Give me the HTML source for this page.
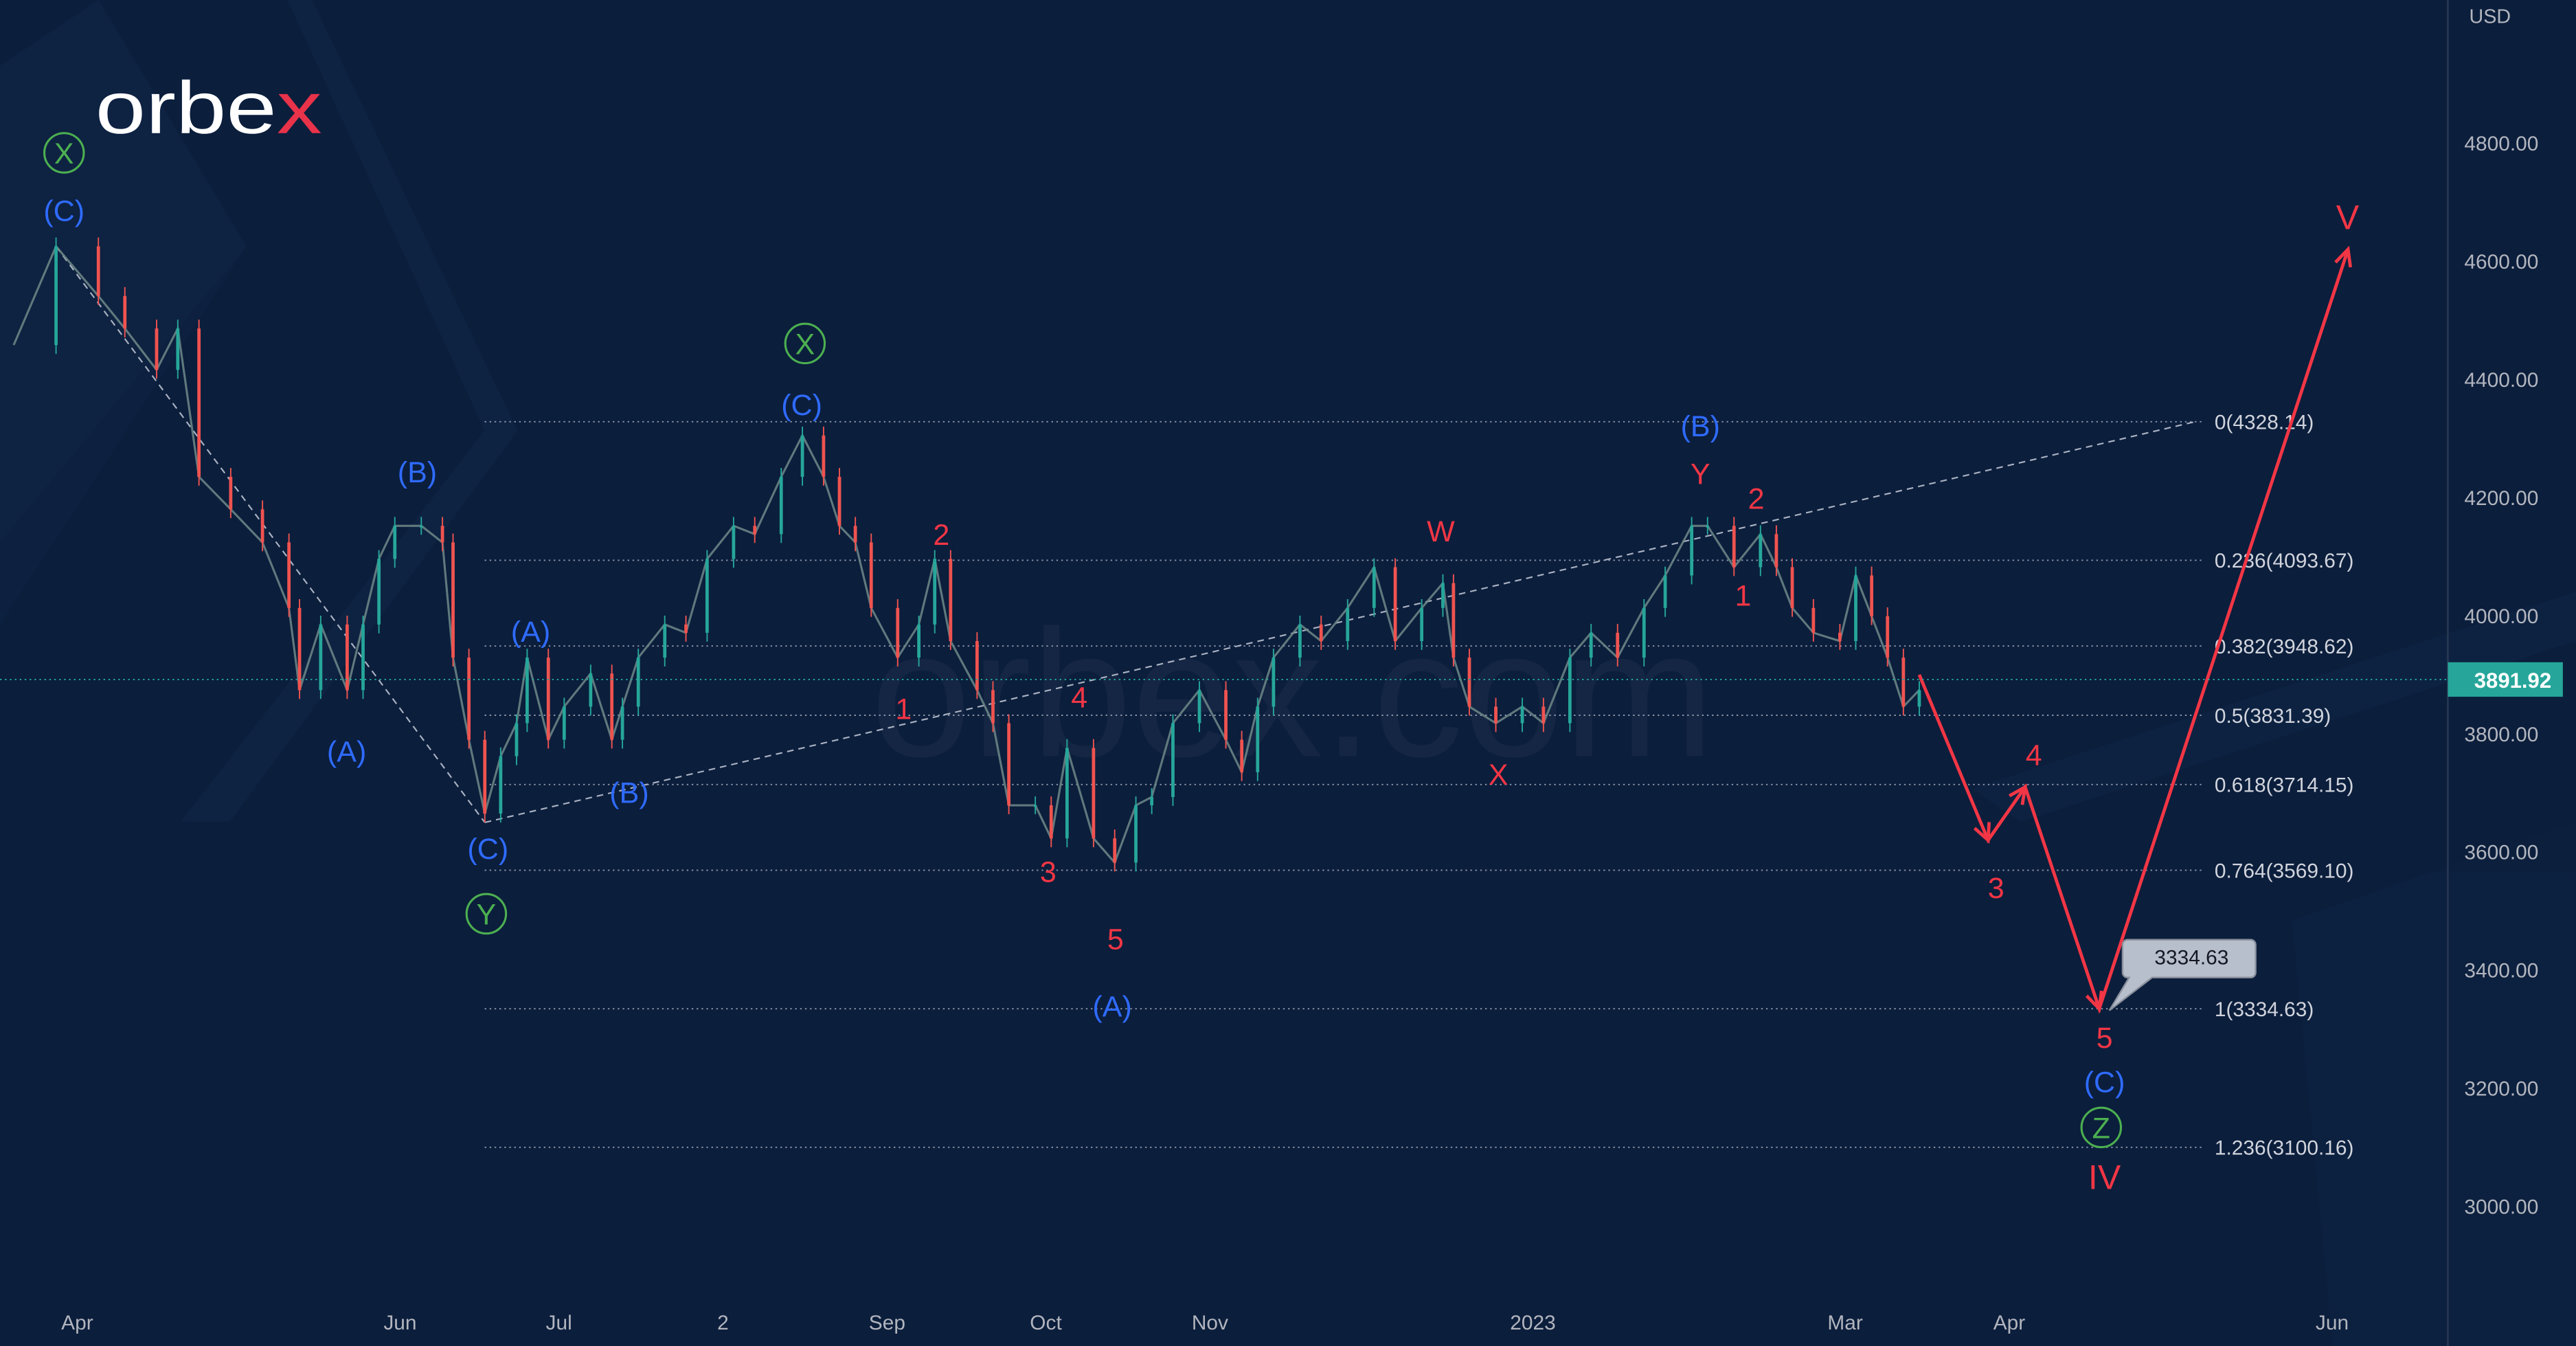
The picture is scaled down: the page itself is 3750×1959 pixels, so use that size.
<!DOCTYPE html>
<html><head><meta charset="utf-8">
<style>
html,body{margin:0;padding:0;background:#0b1e3c;}
svg{display:block;}
text{font-family:"Liberation Sans",sans-serif;}
</style></head>
<body>
<svg id="chart" width="3750" height="1959" viewBox="0 0 1568 819" preserveAspectRatio="none" xmlns="http://www.w3.org/2000/svg">
  <rect x="0" y="0" width="1568" height="819" fill="#0b1e3c"/>
  <g opacity="0.4">
    <polygon points="0,40 60,0 150,150 0,330" fill="#13284a"/>
    <polygon points="0,330 150,150 0,380" fill="#102544"/>
    <polygon points="190,0 315,262 140,500 110,500 295,262 175,0" fill="#142a4b"/>
    <polygon points="1395,560 1568,500 1568,819 1420,819" fill="#0f2343"/>
    <polygon points="1200,480 1568,360 1568,390 1230,500" fill="#122848"/>
  </g>
  <text x="530" y="460" font-size="110" fill="#ffffff" opacity="0.035">orbex.com</text>
  <g>
    <text x="58" y="81" font-size="45" fill="#ffffff" textLength="138" lengthAdjust="spacingAndGlyphs">orbe<tspan fill="#e8334a">x</tspan></text>
  </g>
  <line x1="1490" y1="0" x2="1490" y2="819" stroke="#2a3a55" stroke-width="1"/>
  <text x="1503" y="14" font-size="12" fill="#b2b5be">USD</text>
  <g id="yticks"></g>
  <g id="xticks"></g>
  <g id="fib"></g>
  <g id="trend"></g>
  <g id="candles"></g>
  <g id="proj"></g>
  <g id="labels"></g>
  <g id="last"></g>
</svg>
<script>
const priceTicks=[4800,4600,4400,4200,4000,3800,3600,3400,3200,3000];
const monthLabels=["Apr","Jun","Jul","2","Sep","Oct","Nov","2023","Mar","Apr","Jun"];
const monthDays=[0,61,91,122,153,183,214,275,334,365,426];
const fibRatios=["0","0.236","0.382","0.5","0.618","0.764","1","1.236"];
const fibPrices=[4328.14,4093.67,3948.62,3831.39,3714.15,3569.10,3334.63,3100.16];
const lastPrice=3891.92;
const days=[-12,-4,4,9,15,19,23,29,35,40,42,46,51,54,57,60,65,69,71,74,77,80,83,85,89,92,97,101,103,106,111,115,119,124,128,133,137,141,144,147,150,155,159,162,165,170,173,176,181,184,187,192,196,200,203,207,212,217,220,223,226,231,235,240,245,249,254,258,260,263,268,273,277,282,286,291,296,300,305,308,313,318,321,324,328,333,336,339,342,345,348];
const closes=[4458,4625,4541,4486,4416,4486,4235,4180,4124,4013,3874,3985,3874,3985,4096,4152,4152,4124,3929,3790,3665,3762,3818,3929,3790,3846,3902,3790,3846,3929,3985,3971,4096,4152,4138,4235,4305,4235,4152,4124,4013,3929,3985,4096,3957,3874,3818,3679,3679,3623,3776,3623,3582,3679,3693,3818,3874,3790,3735,3846,3929,3985,3957,4013,4082,3957,4013,4055,3929,3846,3818,3846,3818,3929,3971,3929,4013,4068,4152,4152,4082,4138,4082,4013,3971,3957,4068,3999,3929,3846,3874];
const projDays=[348,361,368,382,429];
const projPrices=[3900,3620,3710,3334.63,4620];
const trendDays=[[-4,77],[77,400]];
const trendPrices=[[4625,3650],[3650,4328]];

const NS="http://www.w3.org/2000/svg";
function X(d){return 47+d*3.222;}
function Y(p){return 87+(4800-p)/200*71.9;}
function mk(tag,attrs,parent){const e=document.createElementNS(NS,tag);for(const k in attrs)e.setAttribute(k,attrs[k]);parent.appendChild(e);return e;}

const yt=document.getElementById('yticks');
priceTicks.forEach(p=>{const t=mk('text',{x:1500,y:Y(p)+4.5,'font-size':12.5,fill:'#b2b5be'},yt);t.textContent=p.toFixed(2);

});
const xt=document.getElementById('xticks');
monthLabels.forEach((m,i)=>{const t=mk('text',{x:X(monthDays[i]),y:809,'font-size':12.5,fill:'#b2b5be','text-anchor':'middle'},xt);t.textContent=m;

});

const fib=document.getElementById('fib');
fibPrices.forEach((p,i)=>{const y=Y(p);
const l=mk('line',{x1:295,x2:1340,y1:y,y2:y,stroke:'#8a93a6','stroke-width':0.8,'stroke-dasharray':'1 2'},fib);


const t=mk('text',{x:1348,y:y+4.5,'font-size':12.5,fill:'#d1d4dc'},fib);t.textContent=fibRatios[i]+'('+p.toFixed(2)+')';

});

const tr=document.getElementById('trend');
trendDays.forEach((d,i)=>{const l=mk('line',{x1:X(d[0]),y1:Y(trendPrices[i][0]),x2:X(d[1]),y2:Y(trendPrices[i][1]),stroke:'#aab2c2','stroke-width':0.9,'stroke-dasharray':'4 3'},tr);

});

const cg=document.getElementById('candles');
let pts=days.map((d,i)=>X(d)+','+Y(closes[i])).join(' ');
const pl=mk('polyline',{points:pts,fill:'none',stroke:'#6f8a88','stroke-width':1.3,opacity:0.85},cg);


for(let i=1;i<days.length;i++){const o=closes[i-1],c=closes[i];const up=c>=o;const col=up?'#26a69a':'#ef5350';
const x=X(days[i]);const hi=Math.max(o,c)+15,lo=Math.min(o,c)-15;
const w=mk('line',{x1:x,x2:x,y1:Y(hi),y2:Y(lo),stroke:col,'stroke-width':0.8},cg);


const b=mk('rect',{x:x-1,y:Y(Math.max(o,c)),width:2,height:Math.max(1,Y(Math.min(o,c))-Y(Math.max(o,c))),fill:col},cg);

}

const lg=document.getElementById('last');
const ll=mk('line',{x1:0,x2:1490,y1:Y(lastPrice),y2:Y(lastPrice),stroke:'#26a69a','stroke-width':0.8,'stroke-dasharray':'1 2'},lg);


const lr=mk('rect',{x:1490,y:Y(lastPrice)-10.5,width:70,height:21,fill:'#26a69a'},lg);


const lt=mk('text',{x:1553,y:Y(lastPrice)+5,'font-size':13,fill:'#ffffff','text-anchor':'end','font-weight':'bold'},lg);lt.textContent=lastPrice.toFixed(2);



const pg=document.getElementById('proj');
const ppts=projDays.map((d,i)=>[X(d),Y(projPrices[i])]);
const pp=mk('polyline',{points:ppts.map(p=>p.join(',')).join(' '),fill:'none',stroke:'#f23645','stroke-width':2},pg);


for(let i=1;i<ppts.length;i++){const [x0,y0]=ppts[i-1],[x1,y1]=ppts[i];const a=Math.atan2(y1-y0,x1-x0);const L=11;
const h=mk('polyline',{points:`${x1-L*Math.cos(a-0.45)},${y1-L*Math.sin(a-0.45)} ${x1},${y1} ${x1-L*Math.cos(a+0.45)},${y1-L*Math.sin(a+0.45)}`,fill:'none',stroke:'#f23645','stroke-width':2},pg);

}
const cy=Y(3334.63);
const cb=mk('path',{d:`M1298,${cy-42} h72 a3,3 0 0 1 3,3 v17 a3,3 0 0 1 -3,3 h-60 l-26,${20} l12,-20 h-1 a3,3 0 0 1 -3,-3 v-17 a3,3 0 0 1 3,-3 z`,fill:'#b8bfcc',stroke:'#8a909c','stroke-width':1},pg);


const ct=mk('text',{x:1334,y:cy-27,'font-size':12.5,fill:'#131722','text-anchor':'middle'},pg);ct.textContent='3334.63';



const labelText=["(C)","(B)","(A)","(A)","(B)","(C)","(C)","(A)","(B)","(C)","2","1","4","3","5","W","X","Y","2","1","4","3","5","V","IV","X","X","Y","Z"];
const labelPos=[[39,128],[254,287],[211,457],[323,384],[383,482],[297,516],[488,246],[677,612],[1035,259],[1281,658],[573,325],[550,431],[657,424],[638,530],[679,571],[877,323],[912,471],[1035,288],[1069,303],[1061,362],[1238,459],[1215,540],[1281,631],[1429,133],[1281,717],[39,93],[490,209],[296,556],[1279,686]];
const labelKind=["b","b","b","b","b","b","b","b","b","b","r","r","r","r","r","r","r","r","r","r","r","r","r","r","r","g","g","g","g"];
const colors={b:'#2f6bff',r:'#f23645',g:'#4caf50'};
const lgp=document.getElementById('labels');
labelText.forEach((s,i)=>{const [x,y]=labelPos[i];const k=labelKind[i];
if(k==='g'){const c=mk('circle',{cx:x,cy:y,r:12,fill:'none',stroke:colors.g,'stroke-width':1.3},lgp);

}
const t=mk('text',{x:x,y:y+6.5,'font-size':k==='r'&&(s==='V'||s==='IV')?21:18,fill:colors[k],'text-anchor':'middle'},lgp);t.textContent=s;

});
</script>
</body></html>
